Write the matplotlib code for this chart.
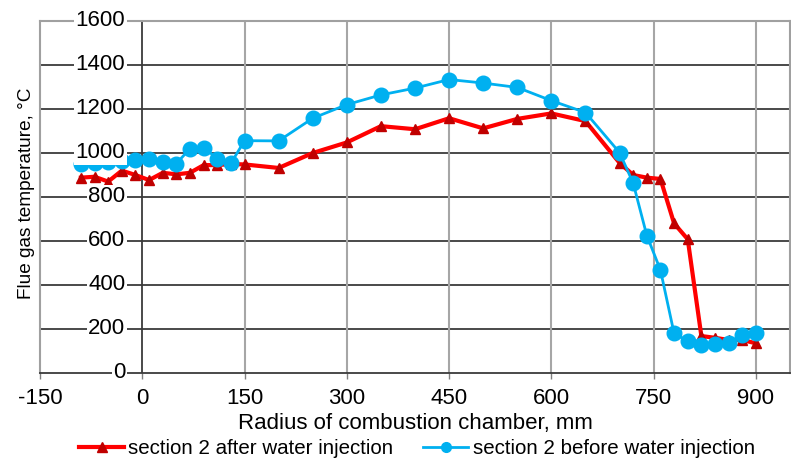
import matplotlib
matplotlib.use('Agg')
import matplotlib.pyplot as plt
from matplotlib.lines import Line2D

plt.rcParams['font.family'] = ['Liberation Sans', 'DejaVu Sans']

# Radius positions, mm
radius = [-90, -70, -50, -30, -10, 10, 30, 50, 70, 90, 110, 130, 150,
          200, 250, 300, 350, 400, 450, 500, 550, 600, 650,
          700, 720, 740, 760, 780, 800, 820, 840, 860, 880, 900]
# section 2 after water injection
temp_after = [888, 892, 870, 920, 900, 877, 910, 903, 910, 945, 945, 950, 948,
              932, 1000, 1048, 1122, 1108, 1158, 1112, 1155, 1180, 1145,
              955, 900, 888, 882, 680, 608, 168, 160, 150, 150, 135]
# section 2 before water injection
temp_before = [952, 955, 960, 965, 970, 975, 960, 952, 1020, 1025, 975, 953, 1056,
               1055, 1158, 1220, 1264, 1295, 1334, 1318, 1298, 1238, 1184,
               1002, 863, 625, 468, 180, 145, 128, 132, 136, 172, 182]

x_ticks = [-150, 0, 150, 300, 450, 600, 750, 900]
y_ticks = [0, 200, 400, 600, 800, 1000, 1200, 1400, 1600]

fig = plt.figure(figsize=(7.91, 4.59), dpi=100)
ax = fig.add_axes([40 / 791, 86 / 459, 750 / 791, 352 / 459])

red_line = '#FF0000'
red_mark = '#C00000'
blue = '#00B0F0'

ax.plot(radius, temp_after, color=red_line, lw=3.0, marker='^', markersize=7.5,
        markerfacecolor=red_mark, markeredgecolor=red_mark, zorder=3)
ax.plot(radius, temp_before, color=blue, lw=2.0, marker='o', markersize=10.5,
        markerfacecolor=blue, markeredgecolor=blue, zorder=4)

ax.set_xlim(-150, 950)
ax.set_ylim(0, 1600)
ax.set_xticks(x_ticks)
ax.set_xticklabels([str(v) for v in x_ticks], fontsize=16)
ax.set_yticks(y_ticks)
ax.tick_params(axis='y', left=False, labelleft=False)
ax.tick_params(axis='x', direction='out', length=4, width=1, color='#808080', pad=7)

# gridlines
for y in y_ticks[1:-1]:
    ax.axhline(y, color='#3a3a3a', lw=1.3, zorder=1)
for x in x_ticks[2:]:
    ax.axvline(x, color='#a6a6a6', lw=1.5, zorder=1)
ax.axvline(0, color='#3a3a3a', lw=1.3, zorder=1)

for s in ['top', 'right', 'left']:
    ax.spines[s].set_color('#a0a0a0')
    ax.spines[s].set_linewidth(1.5)
ax.spines['bottom'].set_color('#3a3a3a')
ax.spines['bottom'].set_linewidth(1.3)

# y tick labels sit next to the x=0 axis with white boxes
for y in y_ticks:
    ax.text(-25, y, str(y), ha='right', va='center', fontsize=16, zorder=6,
            bbox=dict(facecolor='white', edgecolor='none', pad=1.0))

ax.set_xlabel('Radius of combustion chamber, mm', fontsize=16, labelpad=3)
ax.set_ylabel('Flue gas temperature, \u00b0C', fontsize=13.7)
ax.yaxis.set_label_coords(-0.007, 0.51)

handles = [
    Line2D([], [], color=red_line, lw=3.0, marker='^', markersize=7,
           markerfacecolor=red_mark, markeredgecolor=red_mark),
    Line2D([], [], color=blue, lw=2.0, marker='o', markersize=7,
           markerfacecolor=blue, markeredgecolor=blue),
]
fig.legend(handles, ['section 2 after water injection', 'section 2 before water injection'],
           loc='center', bbox_to_anchor=(0.527, 10 / 459), ncol=2, frameon=False,
           fontsize=14.8, handlelength=2.2, handletextpad=0.2, columnspacing=1.45,
           borderpad=0)

fig.savefig('out.png', dpi=100)
